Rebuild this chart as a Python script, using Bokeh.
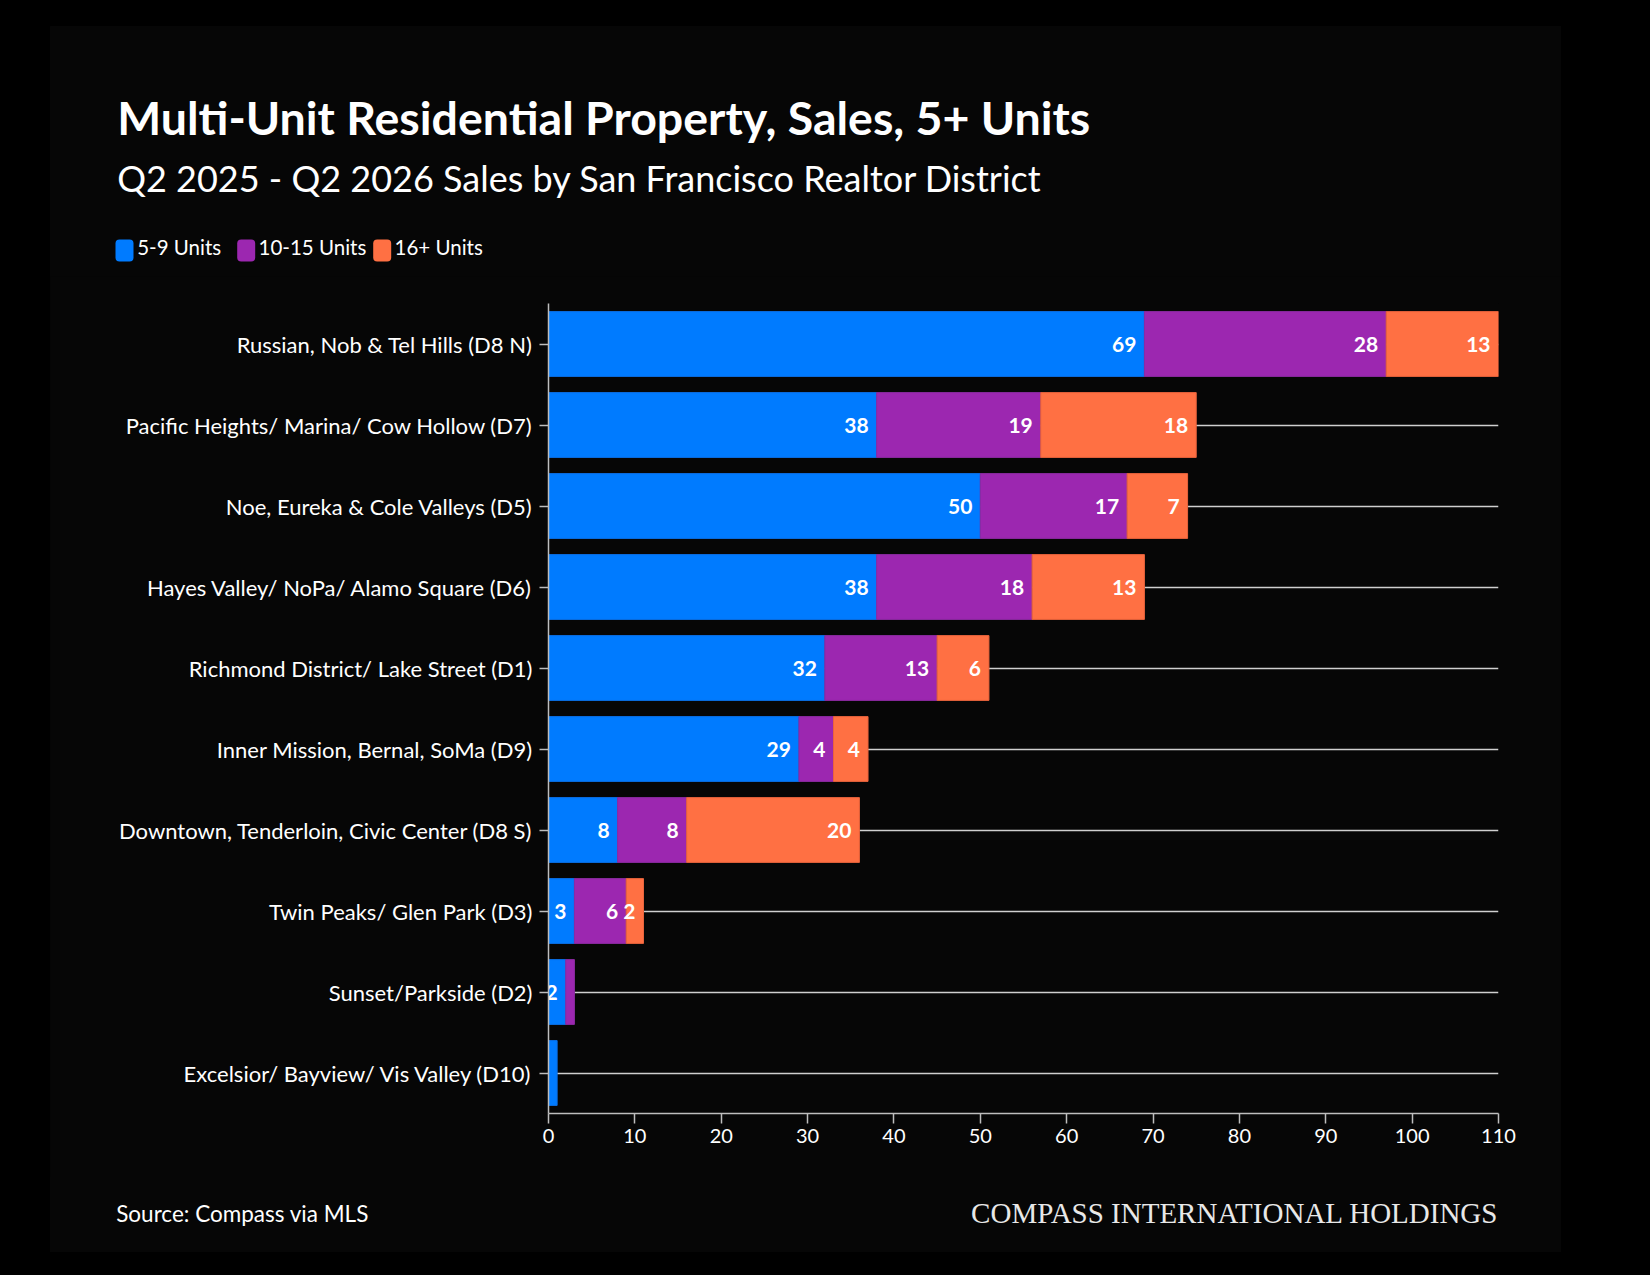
from bokeh.plotting import figure
from bokeh.models import ColumnDataSource, FactorRange, Range1d, FixedTicker, Spacer
from bokeh.layouts import row, column
from bokeh.embed import file_html
from bokeh.resources import INLINE
from bokeh.core.properties import value

# ---------------- data ----------------
districts = [
    "Russian, Nob & Tel Hills (D8 N)",
    "Pacific Heights/ Marina/ Cow Hollow (D7)",
    "Noe, Eureka & Cole Valleys (D5)",
    "Hayes Valley/ NoPa/ Alamo Square (D6)",
    "Richmond District/ Lake Street (D1)",
    "Inner Mission, Bernal, SoMa (D9)",
    "Downtown, Tenderloin, Civic Center (D8 S)",
    "Twin Peaks/ Glen Park (D3)",
    "Sunset/Parkside (D2)",
    "Excelsior/ Bayview/ Vis Valley (D10)",
]
units_5_9 = [69, 38, 50, 38, 32, 29, 8, 3, 2, 1]
units_10_15 = [28, 19, 17, 18, 13, 4, 8, 6, 1, 0]
units_16_plus = [13, 18, 7, 13, 6, 4, 20, 2, 0, 0]
series_names = ["5-9 Units", "10-15 Units", "16+ Units"]
series_colors = ["#007BFF", "#9C27B0", "#FF7043"]
series_edges = ["#0a6fe6", "#8c2aa2", "#e8633c"]
x_ticks = [0, 10, 20, 30, 40, 50, 60, 70, 80, 90, 100, 110]

title_text = "Multi-Unit Residential Property, Sales, 5+ Units"
subtitle_text = "Q2 2025 - Q2 2026 Sales by San Francisco Realtor District"
source_text = "Source: Compass via MLS"
brand_text = "COMPASS INTERNATIONAL HOLDINGS"

# ---------------- layout constants ----------------
W = 1511            # panel width
HEAD_H = 250        # header strip height
MAIN_H = 900        # chart strip height
FOOT_H = 76         # footer strip height
FONT = "Lato"
BG = "#060606"
TXT = "#ffffff"
BASE_SHIFT = 0.36   # baseline correction (fraction of font size)


def strip(h):
    f = figure(width=W, height=h, x_range=Range1d(0, W), y_range=Range1d(h, 0),
               output_backend="svg", toolbar_location=None,
               min_border=0, min_border_left=0, min_border_right=0,
               min_border_top=0, min_border_bottom=0,
               background_fill_color=BG, border_fill_color=BG, outline_line_color=None,
               frame_align=False)
    f.title.visible = False
    f.xaxis.visible = False
    f.yaxis.visible = False
    f.grid.visible = False
    return f


def base(y, fs):
    return y - BASE_SHIFT * fs


# ---------------- header ----------------
head = strip(HEAD_H)
head.text(x=[66.7], y=[base(107, 46.5)], text=[title_text], text_font=value(FONT), text_font_size="46.5px",
          text_font_style="bold", text_color=TXT, text_baseline="alphabetic")
head.text(x=[66.7], y=[base(164, 36)], text=[subtitle_text], text_font=value(FONT), text_font_size="36px",
          text_color=TXT, text_baseline="alphabetic")
leg_left = [65, 186.7, 322.7]
leg_tx = [86.7, 208, 344]
head.quad(left=leg_left, right=[v + 18 for v in leg_left], top=[213] * 3, bottom=[235] * 3,
          fill_color=series_colors, line_color=None, border_radius=4)
head.text(x=leg_tx, y=[base(228, 20.5)] * 3, text=series_names, text_font=value(FONT),
          text_font_size="20.5px", text_color=TXT, text_baseline="alphabetic")

# ---------------- main chart ----------------
p = figure(
    width=W, height=MAIN_H,
    y_range=FactorRange(factors=list(reversed(districts))),
    x_range=Range1d(0, 110),
    output_backend="svg", toolbar_location=None,
    min_border_left=498, min_border_right=63, min_border_top=27, min_border_bottom=63,
    background_fill_color=BG, border_fill_color=BG, outline_line_color=None,
    frame_align=False,
)
p.title.visible = False

lefts = [0] * len(districts)
for vals, name, col, edge in zip([units_5_9, units_10_15, units_16_plus], series_names, series_colors, series_edges):
    ys, ls, rs, labs, lab_ys, lab_xs = [], [], [], [], [], []
    for d, l, v in zip(districts, lefts, vals):
        if v > 0:
            ys.append(d); ls.append(l); rs.append(l + v)
            if v >= 2:
                labs.append(str(v)); lab_ys.append(d); lab_xs.append(l + v)
    src = ColumnDataSource(dict(y=ys, left=ls, right=rs))
    p.hbar(y="y", left="left", right="right", height=0.8, source=src,
           fill_color=col, line_color=edge, line_width=1)
    lsrc = ColumnDataSource(dict(x=lab_xs, y=lab_ys, t=labs))
    p.text(x="x", y="y", text="t", source=lsrc, x_offset=-8, text_align="right",
           text_baseline="middle", text_color=TXT, text_font=value(FONT),
           text_font_size="21px", text_font_style="bold")
    lefts = [l + v for l, v in zip(lefts, vals)]

p.xgrid.grid_line_color = None
p.ygrid.grid_line_color = "#cfcfcf"
p.ygrid.grid_line_width = 1.5
p.ygrid.level = "underlay"

p.xaxis.ticker = FixedTicker(ticks=x_ticks)
for ax in (p.xaxis, p.yaxis):
    ax.axis_line_color = "#bdbdbd"
    ax.axis_line_width = 1.5
    ax.major_tick_line_color = "#bdbdbd"
    ax.major_tick_line_width = 1.5
    ax.minor_tick_line_color = None
    ax.major_tick_in = 0
    ax.major_label_text_color = TXT
    ax.major_label_text_font = FONT
p.xaxis.major_tick_out = 10
p.xaxis.major_label_standoff = 5
p.xaxis.major_label_text_font_size = "20px"
p.yaxis.major_tick_out = 9
p.yaxis.major_label_standoff = 7
p.yaxis.major_label_text_font_size = "22px"

# ---------------- footer ----------------
foot = strip(FOOT_H)
foot.text(x=[65.7], y=[base(44.7, 22.5)], text=[source_text], text_font=value(FONT), text_font_size="22.5px",
          text_color=TXT, text_baseline="alphabetic")
foot.text(x=[1448], y=[base(47.3, 29)], text=[brand_text], text_font=value("Liberation Serif"),
          text_font_size="29px", text_color="#e8e8e8", text_align="right", text_baseline="alphabetic")

panel = column(head, p, foot, spacing=0, styles={"background-color": BG})
layout = column(Spacer(width=10, height=26), row(Spacer(width=50, height=HEAD_H + MAIN_H + FOOT_H), panel))

html = file_html(layout, INLINE)
html = html.replace("<head>", "<head><style>html,body{background:#000000;margin:0;padding:0;}</style>", 1)
open("out.html", "w").write(html)
